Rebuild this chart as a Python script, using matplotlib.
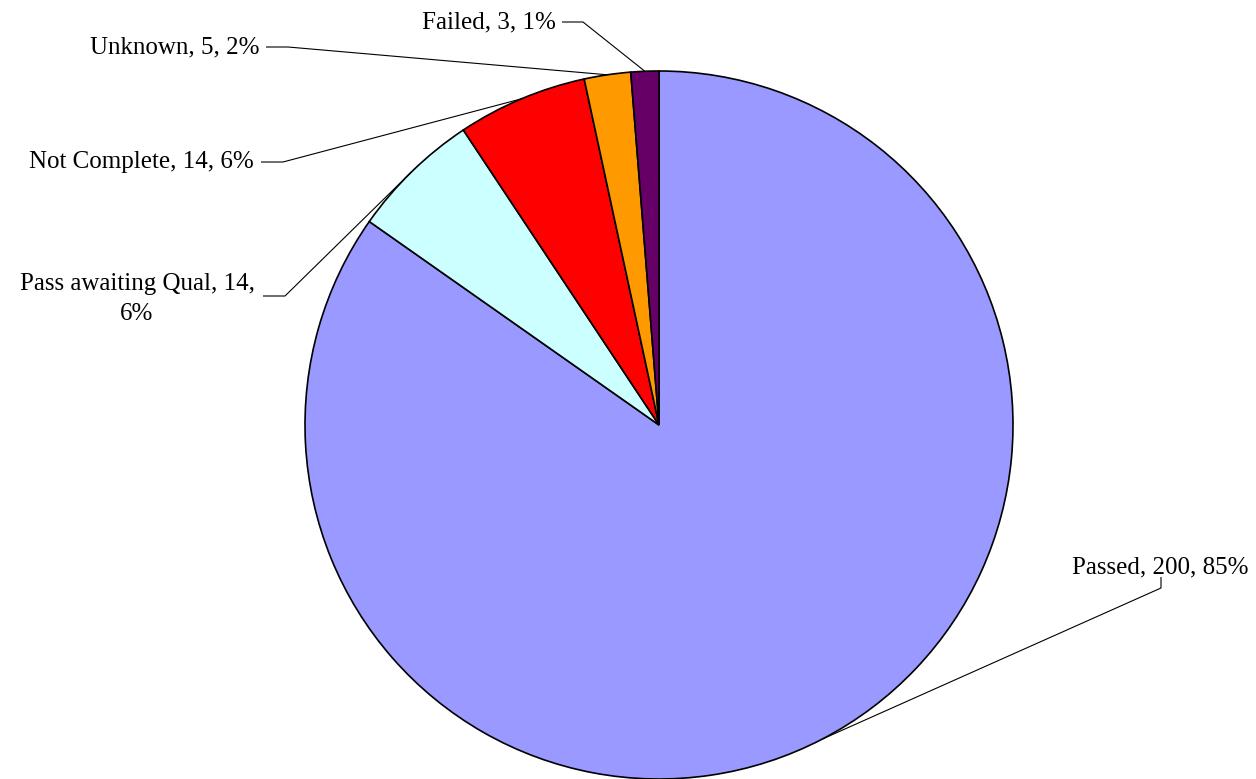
import numpy as np
import matplotlib
matplotlib.use("Agg")
import matplotlib.pyplot as plt

categories = ["Passed", "Pass awaiting Qual", "Not Complete", "Unknown", "Failed"]
values = [200, 14, 14, 5, 3]
colors = ["#9999FF", "#CCFFFF", "#FF0000", "#FF9900", "#660066"]

W, H = 1256, 779
fig = plt.figure(figsize=(W / 100, H / 100), dpi=100)
ax = fig.add_axes([0, 0, 1, 1])

cx, cy, R = 659, H - 425, 354
wedges, _ = ax.pie(values, colors=colors, startangle=90, counterclock=False,
                   center=(cx, cy), radius=R, frame=True,
                   wedgeprops=dict(edgecolor="black", linewidth=1.2))
ax.set_xlim(0, W)
ax.set_ylim(0, H)
ax.set_aspect("equal")
ax.axis("off")

total = sum(values)
labels = [f"{c}, {v}, {round(100 * v / total):.0f}%" for c, v in zip(categories, values)]
labels[1] = f"{categories[1]}, {values[1]},\n{round(100 * values[1] / total):.0f}%"

font = dict(family="Liberation Serif", size=18, color="black")

layout = [
    dict(tx=1160, ty=567, ha="center", knees=[(1161, 577), (1161, 588)]),
    dict(tx=137, ty=299, ha="center", knees=[(263, 296), (285, 296)]),
    dict(tx=254, ty=162, ha="right", knees=[(261, 162), (283, 162)]),
    dict(tx=260, ty=47, ha="right", knees=[(266, 47), (288, 47)]),
    dict(tx=556, ty=22, ha="right", knees=[(562, 22), (583, 22)]),
]

for w, lab, lay in zip(wedges, labels, layout):
    ang = np.deg2rad((w.theta1 + w.theta2) / 2)
    px, py = cx + R * np.cos(ang), cy + R * np.sin(ang)
    ax.text(lay["tx"], H - lay["ty"], lab, ha=lay["ha"], va="center",
            multialignment="center", linespacing=1.45, **font)
    xs = [k[0] for k in lay["knees"]] + [px]
    ys = [H - k[1] for k in lay["knees"]] + [py]
    ax.plot(xs, ys, color="black", linewidth=0.8, solid_capstyle="butt")

fig.savefig("out.png", dpi=100, facecolor="white")
